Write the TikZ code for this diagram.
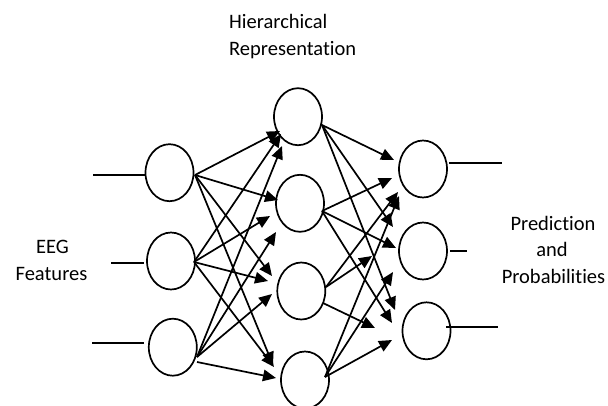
\documentclass[tikz,border=0pt]{standalone}
\usepackage{fontspec}
\setmainfont[Ligatures=NoCommon]{Carlito}
\usetikzlibrary{shapes.geometric,arrows.meta}
\begin{document}
\begin{tikzpicture}[x=1pt,y=-1pt,
  neuron/.style={draw,ellipse,line width=1.7pt,minimum width=48pt,minimum height=57pt,inner sep=0pt},
  wire/.style={line width=1.7pt},
  arr/.style={line width=1.7pt,-{Triangle[length=13pt,width=11.5pt]}},
  lbl/.style={font=\fontsize{20.5}{27}\selectfont,inner sep=0pt}]
\useasboundingbox (0,0) rectangle (608,405);
\fill[white] (0,0) rectangle (608,405);
% neurons
\node[neuron] (I1) at (169.5,172.7) {};
\node[neuron] (I2) at (171,261) {};
\node[neuron] (I3) at (172.8,347.2) {};
\node[neuron] (H1) at (298,116.7) {};
\node[neuron] (H2) at (300,203.3) {};
\node[neuron] (H3) at (301.3,291) {};
\node[neuron] (H4) at (305,380) {};
\node[neuron] (O1) at (423,169) {};
\node[neuron] (O2) at (423,251) {};
\node[neuron] (O3) at (426.5,330.8) {};
% input / output wires
\coordinate (in1) at (93,175);
\coordinate (in2a) at (111,263);
\coordinate (in2b) at (144,263);
\coordinate (in3a) at (92,343);
\coordinate (in3b) at (144,343);
\draw[wire] (in1) -- (I1.west |- in1);
\draw[wire] (in2a) -- (in2b);
\draw[wire] (in3a) -- (in3b);
\coordinate (out1a) at (449,162.7);
\coordinate (out1b) at (502,162.7);
\coordinate (out2a) at (450,250.7);
\coordinate (out2b) at (467,250.7);
\coordinate (out3a) at (446,327);
\coordinate (out3b) at (498,327);
\draw[wire] (out1a) -- (out1b);
\draw[wire] (out2a) -- (out2b);
\draw[wire] (out3a) -- (out3b);
% sources
\coordinate (s1) at (195,175);
\coordinate (s2) at (194,262);
\coordinate (s3) at (197,357);
\coordinate (s3b) at (197,362);
% hidden tips
\coordinate (t11) at (280,131);
\coordinate (t21) at (281,134);
\coordinate (t31) at (282,146);
\coordinate (t12) at (278,200);
\coordinate (t22) at (270,216);
\coordinate (t32) at (276,232);
\coordinate (t13) at (272,276);
\coordinate (t23) at (268,281);
\coordinate (t33) at (272,294);
\coordinate (t14) at (273,365);
\coordinate (t24) at (274,367);
\coordinate (t34) at (276,378);
\draw[arr] (s1) -- (t11);
\draw[arr] (s2) -- (t21);
\draw[arr] (s3) -- (t31);
\draw[arr] (s1) -- (t12);
\draw[arr] (s2) -- (t22);
\draw[arr] (s3) -- (t32);
\draw[arr] (s1) -- (t13);
\draw[arr] (s2) -- (t23);
\draw[arr] (s3) -- (t33);
\draw[arr] (s1) -- (t14);
\draw[arr] (s2) -- (t24);
\draw[arr] (s3b) -- (t34);
% hidden sources
\coordinate (h1) at (322,125);
\coordinate (h2) at (322,211);
\coordinate (h3) at (326,287);
\coordinate (h3b) at (323,303);
\coordinate (h4) at (325,377);
% output tips
\coordinate (u11) at (394,160);
\coordinate (u21) at (392,178);
\coordinate (u31) at (398,192);
\coordinate (u41) at (399,196);
\coordinate (u12) at (393,227);
\coordinate (u22) at (396,248);
\coordinate (u32) at (372,256);
\coordinate (u42) at (393,272);
\coordinate (u13) at (395,310);
\coordinate (u23) at (392,323);
\coordinate (u33) at (375,328);
\coordinate (u43) at (392,340);
\draw[arr] (h1) -- (u11);
\draw[arr] (h2) -- (u21);
\draw[arr] (h3) -- (u31);
\draw[arr] (h4) -- (u41);
\draw[arr] (h1) -- (u12);
\draw[arr] (h2) -- (u22);
\draw[arr] (h3) -- (u32);
\draw[arr] (h4) -- (u42);
\draw[arr] (h1) -- (u13);
\draw[arr] (h2) -- (u23);
\draw[arr] (h3b) -- (u33);
\draw[arr] (h4) -- (u43);
% labels
\node[lbl,anchor=base west] (hr1) at (229,28) {Hierarchical};
\node[lbl,anchor=base west] (hr2) at (229,55) {Representation};
\node[lbl,anchor=base] (e1) at (52.5,253) {EEG};
\node[lbl,anchor=base] (e2) at (51.5,280) {Features};
\node[lbl,anchor=base] (p1) at (553,230) {Prediction};
\node[lbl,anchor=base] (p2) at (552,256.5) {and};
\node[lbl,anchor=base] (p3) at (553.5,283) {Probabilities};
\end{tikzpicture}
\end{document}
